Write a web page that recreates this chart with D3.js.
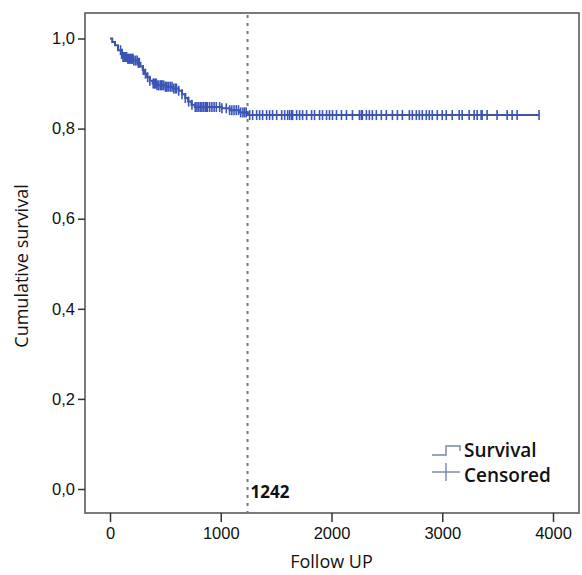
<!DOCTYPE html>
<html>
<head>
<meta charset="utf-8">
<script src="https://cdn.jsdelivr.net/npm/d3@7"></script>
<style>
  body { margin: 0; background: #fff; }
  svg { display: block; font-family: "Open Sans", "Noto Sans", sans-serif; }
</style>
</head>
<body>
<svg id="chart" width="582" height="575"></svg>
<script>
// step points of the survival curve: [time, cumulative survival]
const steps = [
    [0, 1.0], [20, 0.992], [45, 0.985], [72, 0.974], [100, 0.966], [115, 0.959],
    [160, 0.955], [210, 0.951], [250, 0.946], [275, 0.938], [295, 0.930],
    [315, 0.922], [335, 0.914], [360, 0.906], [385, 0.900], [420, 0.896],
    [500, 0.893], [570, 0.889], [620, 0.884], [650, 0.876], [680, 0.868],
    [705, 0.860], [735, 0.853], [765, 0.848], [1010, 0.845], [1080, 0.841],
    [1170, 0.836], [1245, 0.830]
];
const lastTime = 3874;

// censored observations (time)
const censored = [
    95, 105, 110, 118, 125, 132, 140, 150, 160, 168, 175, 185, 192, 200,
    208, 215, 230, 245, 255, 265, 300, 320, 340, 360, 390, 400, 410, 418,
    425, 440, 455, 462, 470, 485, 500, 508, 515, 530, 545, 560, 575, 590,
    600, 620, 650, 680, 710, 740, 770, 785, 800, 815, 830, 845, 860, 870,
    880, 900, 920, 940, 960, 990, 1010, 1050, 1080, 1100, 1120, 1140, 1160,
    1180, 1200, 1215, 1230,
    1261, 1288, 1324, 1351, 1378, 1414, 1441, 1468, 1505, 1550, 1577, 1604,
    1622, 1640, 1649, 1685, 1712, 1739, 1775, 1820, 1847, 1892, 1919, 1955,
    1982, 2009, 2045, 2090, 2135, 2189, 2252, 2270, 2279, 2315, 2342, 2369,
    2405, 2450, 2495, 2550, 2595, 2640, 2703, 2730, 2766, 2793, 2820, 2856,
    2883, 2910, 2955, 3000, 3036, 3090, 3153, 3180, 3243, 3288, 3315, 3351,
    3360, 3405, 3495, 3586, 3631, 3676, 3874
];

const xTicks = [0, 1000, 2000, 3000, 4000];
const yTicks = [0, 0.2, 0.4, 0.6, 0.8, 1.0];
const cutoff = 1242;
const legendItems = ['Survival', 'Censored'];

const svg = d3.select('#chart');
const frame = { left: 85, right: 579, top: 13, bottom: 513 };

const x = d3.scaleLinear().domain([0, 4000]).range([110, 553]);
const y = d3.scaleLinear().domain([0, 1]).range([489, 38.5]);

const lineColor = '#41559e';
const markColor = '#3a55b8';

// survival at time t (step function)
function survivalAt(t) {
    let s = 1;
    for (const st of steps) {
        if (st[0] <= t) s = st[1];
        else break;
    }
    return s;
}

// frame
svg.append('rect')
    .attr('x', frame.left)
    .attr('y', frame.top)
    .attr('width', frame.right - frame.left)
    .attr('height', frame.bottom - frame.top)
    .attr('fill', 'none')
    .attr('stroke', '#5a5a5a')
    .attr('stroke-width', 1.6);

// y axis
const yAxis = d3.axisLeft(y)
    .tickValues(yTicks)
    .tickSize(7)
    .tickPadding(3)
    .tickFormat(d => d3.format('.1f')(d).replace('.', ','));
const gy = svg.append('g')
    .attr('transform', `translate(${frame.left},0)`)
    .call(yAxis);
gy.select('.domain').remove();
gy.selectAll('.tick line').attr('stroke', '#333').attr('stroke-width', 1.5);
gy.selectAll('.tick text').attr('font-size', 16.5).attr('fill', '#111');

// x axis
const xAxis = d3.axisBottom(x)
    .tickValues(xTicks)
    .tickSize(9)
    .tickPadding(5)
    .tickFormat(d3.format('d'));
const gx = svg.append('g')
    .attr('transform', `translate(0,${frame.bottom})`)
    .call(xAxis);
gx.select('.domain').remove();
gx.selectAll('.tick line').attr('stroke', '#333').attr('stroke-width', 1.5);
gx.selectAll('.tick text').attr('font-size', 16.5).attr('fill', '#111');

// axis titles
svg.append('text')
    .attr('x', x(2000))
    .attr('y', 568)
    .attr('text-anchor', 'middle')
    .attr('font-size', 18)
    .attr('fill', '#111')
    .text('Follow UP');
svg.append('text')
    .attr('transform', `translate(28,${(frame.top + frame.bottom) / 2 + 3}) rotate(-90)`)
    .attr('text-anchor', 'middle')
    .attr('font-size', 18)
    .attr('fill', '#111')
    .text('Cumulative survival');

// cutoff line
svg.append('line')
    .attr('x1', x(cutoff)).attr('x2', x(cutoff))
    .attr('y1', frame.top + 2).attr('y2', frame.bottom)
    .attr('stroke', '#777')
    .attr('stroke-width', 2)
    .attr('stroke-dasharray', '3,5');
svg.append('text')
    .attr('x', x(cutoff) + 3)
    .attr('y', 498)
    .attr('font-size', 17)
    .attr('font-weight', 'bold')
    .attr('fill', '#111')
    .text(cutoff);

// survival curve
const pts = steps.concat([[lastTime, steps[steps.length - 1][1]]]);
const line = d3.line()
    .x(d => x(d[0]))
    .y(d => y(d[1]))
    .curve(d3.curveStepAfter);
svg.append('path')
    .datum(pts)
    .attr('d', line)
    .attr('fill', 'none')
    .attr('stroke', lineColor)
    .attr('stroke-width', 2);

// censored marks
svg.append('g')
    .selectAll('line')
    .data(censored)
    .join('line')
    .attr('x1', d => x(d)).attr('x2', d => x(d))
    .attr('y1', d => y(survivalAt(d)) - 5)
    .attr('y2', d => y(survivalAt(d)) + 5)
    .attr('stroke', markColor)
    .attr('stroke-width', 1.6);

// legend
const lg = svg.append('g').attr('transform', 'translate(432,451)');
lg.append('path')
    .attr('d', 'M0,4 H14 V-5 H28 V0')
    .attr('fill', 'none')
    .attr('stroke', '#7a86a8')
    .attr('stroke-width', 1.5);
lg.append('line')
    .attr('x1', 0).attr('x2', 28).attr('y1', 21).attr('y2', 21)
    .attr('stroke', '#6b7aa6').attr('stroke-width', 1.3);
lg.append('line')
    .attr('x1', 14).attr('x2', 14).attr('y1', 12).attr('y2', 30)
    .attr('stroke', '#6b7aa6').attr('stroke-width', 1.3);
lg.selectAll('text.leg')
    .data(legendItems)
    .join('text')
    .attr('class', 'leg')
    .attr('x', 32)
    .attr('y', (d, i) => 6 + i * 25)
    .attr('font-size', 19)
    .attr('font-weight', 600)
    .attr('fill', '#111')
    .text(d => d);
</script>
</body>
</html>
